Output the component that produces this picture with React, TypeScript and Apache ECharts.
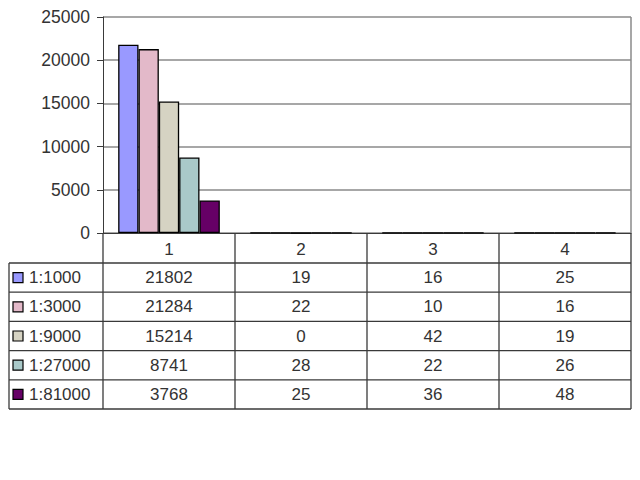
import React, { useEffect, useRef } from "react";
import * as echarts from "echarts";

const categories = ["1", "2", "3", "4"];
const seriesNames = ["1:1000", "1:3000", "1:9000", "1:27000", "1:81000"];
const s1000 = [21802, 19, 16, 25];
const s3000 = [21284, 22, 10, 16];
const s9000 = [15214, 0, 42, 19];
const s27000 = [8741, 28, 22, 26];
const s81000 = [3768, 25, 36, 48];
const seriesValues = [s1000, s3000, s9000, s27000, s81000];
const colors = ["#9999FF", "#E3B9C9", "#D6D3C3", "#A9C9C9", "#660066"];
const yTicks = { min: 0, max: 25000, interval: 5000 };

const FONT = "'Liberation Sans', Arial, sans-serif";
const TEXT = "#333";
const TLINE = "#3a3a3a";

export default function App() {
  const ref = useRef<HTMLDivElement>(null);
  useEffect(() => {
    document.body.style.margin = "0";
    if (!ref.current) return;
    const chart = echarts.init(ref.current, null, { renderer: "svg" });
    const gridTop = 17;
    const gridBottomY = 233;
    const gridLeft = 103;
    const gridRight = 631;
    chart.setOption({
      animation: false,
      backgroundColor: "#fff",
      grid: { left: gridLeft, right: 640 - gridRight, top: gridTop, bottom: 480 - gridBottomY, containLabel: false },
      xAxis: {
        type: "category",
        data: categories,
        axisLine: { show: true, lineStyle: { color: TLINE, width: 1 } },
        axisTick: { show: false },
        axisLabel: { show: true, margin: 8, fontSize: 17, fontFamily: FONT, color: TEXT },
        splitLine: { show: false },
      },
      yAxis: {
        type: "value",
        min: yTicks.min,
        max: yTicks.max,
        interval: yTicks.interval,
        axisLine: { show: true, lineStyle: { color: TLINE, width: 1 } },
        axisTick: { show: true, length: 6, lineStyle: { color: TLINE } },
        axisLabel: {
          margin: 13,
          fontSize: 17.5,
          fontFamily: FONT,
          color: TEXT,
          formatter: (v: number) => String(v),
        },
        splitLine: { show: true, lineStyle: { color: "#8a8a8a", width: 1.5 } },
      },
      series: seriesNames.map((name, i) => ({
        name,
        type: "bar",
        data: seriesValues[i],
        barGap: "0%",
        barCategoryGap: "23%",
        itemStyle: { color: colors[i], borderColor: "#000", borderWidth: 1.3 },
      })),
    });

    const xs = categories.map((c) => chart.convertToPixel({ xAxisIndex: 0 }, c) as number);
    const band = (gridRight - gridLeft) / categories.length;
    const bounds = [gridLeft, ...xs.map((x) => x + band / 2)];
    const rowTop = 263;
    const rowH = 29.2;
    const nRows = seriesNames.length;
    const tableBottom = rowTop + rowH * nRows;
    const legendLeft = 9;
    const els: any[] = [];
    const line = (x1: number, y1: number, x2: number, y2: number, color = TLINE, w = 1.3) =>
      els.push({ type: "line", shape: { x1, y1, x2, y2 }, style: { stroke: color, lineWidth: w }, z: 10 });

    // right border of plot area
    line(gridRight, gridTop, gridRight, gridBottomY, "#8a8a8a", 1.5);
    // horizontal table lines
    for (let r = 0; r <= nRows; r++) {
      const y = rowTop + r * rowH;
      line(legendLeft, y, gridRight, y);
    }
    // vertical table lines
    line(legendLeft, rowTop, legendLeft, tableBottom);
    bounds.forEach((x) => line(x, gridBottomY, x, tableBottom));

    seriesNames.forEach((name, r) => {
      const cy = rowTop + r * rowH + rowH / 2;
      els.push({
        type: "rect",
        shape: { x: 13, y: cy - 5, width: 10, height: 10 },
        style: { fill: colors[r], stroke: "#000", lineWidth: 1.2 },
        z: 11,
      });
      els.push({
        type: "text",
        x: 29,
        y: cy,
        style: { text: name, fill: TEXT, font: `17px ${FONT}`, textAlign: "left", textVerticalAlign: "middle" },
        z: 11,
      });
      seriesValues[r].forEach((v, c) => {
        els.push({
          type: "text",
          x: xs[c],
          y: cy,
          style: { text: String(v), fill: TEXT, font: `17px ${FONT}`, textAlign: "center", textVerticalAlign: "middle" },
          z: 11,
        });
      });
    });
    chart.setOption({ graphic: els });
    return () => chart.dispose();
  }, []);
  return <div ref={ref} style={{ width: 640, height: 480 }} />;
}
